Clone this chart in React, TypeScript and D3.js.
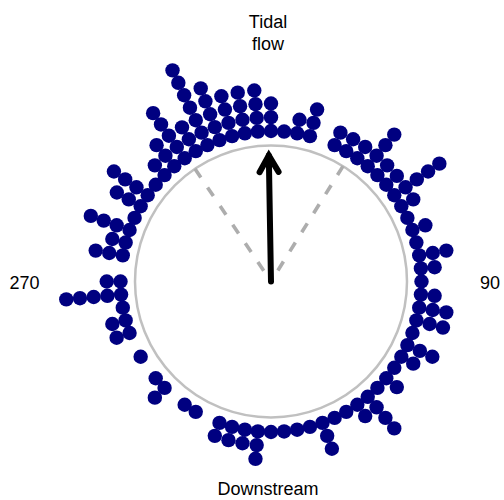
import React from "react";
import * as d3 from "d3";

// Bin centres (compass degrees, clockwise from "Tidal flow" at top)
const binCenters = [
  0, 5, 10, 15, 20, 25, 30, 35, 40, 45, 50, 55,
  60, 65, 70, 75, 80, 85, 90, 95, 100, 105, 110, 115,
  120, 125, 130, 135, 140, 145, 150, 155, 160, 165, 170, 175,
  180, 185, 190, 195, 200, 205, 210, 215, 220, 225, 230, 235,
  240, 245, 250, 255, 260, 265, 270, 275, 280, 285, 290, 295,
  300, 305, 310, 315, 320, 325, 330, 335, 340, 345, 350, 355,
];

// Number of observations stacked in each bin
const binCounts = [
  3, 1, 2, 3, 0, 2, 2, 2, 4, 2, 2, 5,
  2, 1, 2, 1, 3, 2, 1, 2, 3, 3, 1, 3,
  2, 1, 2, 1, 4, 2, 1, 1, 3, 1, 1, 1,
  1, 3, 2, 2, 2, 0, 1, 1, 0, 2, 1, 0,
  1, 0, 2, 2, 1, 5, 2, 0, 3, 2, 4, 1,
  3, 4, 1, 2, 3, 5, 3, 7, 5, 4, 4, 4,
];

// Mean direction, mean resultant length and its confidence interval
const meanDirection = -1;
const meanResultantLength = 0.926;
const ciLimits = [-34, 32];

// Axis labels
const axisLabels = [
  { angle: 0, lines: ["Tidal", "flow"] },
  { angle: 90, lines: ["90"] },
  { angle: 180, lines: ["Downstream"] },
  { angle: 270, lines: ["270"] },
];

const W = 504;
const H = 500;
const CX = 271;
const CY = 281.5;
const R = 136;

export default function App() {
  const angle = d3.scaleLinear().domain([0, 360]).range([0, 2 * Math.PI]);
  const stack = d3.scaleLinear().domain([0, 1]).range([150.5, 164.25]);
  const radial = d3.scaleLinear().domain([0, 1]).range([0, R]);

  const pt = (deg: number, r: number): [number, number] => {
    const a = angle(deg);
    return [CX + r * Math.sin(a), CY - r * Math.cos(a)];
  };

  const dots: { x: number; y: number; key: string }[] = [];
  binCenters.forEach((b, i) => {
    for (let k = 0; k < binCounts[i]; k++) {
      const [x, y] = pt(b, stack(k));
      dots.push({ x, y, key: `${b}-${k}` });
    }
  });

  const tip = pt(meanDirection, radial(meanResultantLength));
  const headLen = 19;
  const headAng = 30;
  const back = meanDirection + 180;
  const wing = (s: number): [number, number] => {
    const a = angle(back + s * headAng);
    return [tip[0] + headLen * Math.sin(a), tip[1] - headLen * Math.cos(a)];
  };
  const w1 = wing(-1);
  const w2 = wing(1);
  const headPath = d3.line()([w1, tip, w2]) || "";

  const labelPos: Record<number, { x: number; y: number; anchor: string }> = {
    0: { x: 268, y: 27.5, anchor: "middle" },
    90: { x: 490, y: 288.5, anchor: "middle" },
    180: { x: 268, y: 495, anchor: "middle" },
    270: { x: 24.5, y: 288.5, anchor: "middle" },
  };

  return (
    <svg
      width={W}
      height={H}
      style={{ position: "absolute", left: 0, top: 0, background: "#fff" }}
      fontFamily="'Liberation Sans', Arial, Helvetica, sans-serif"
    >
      <circle cx={CX} cy={CY} r={R} fill="none" stroke="#c0c0c0" strokeWidth={2.5} />
      {ciLimits.map((c) => {
        const [x, y] = pt(c, R);
        return (
          <line
            key={c}
            x1={x}
            y1={y}
            x2={CX}
            y2={CY}
            stroke="#adadad"
            strokeWidth={3.6}
            strokeDasharray="10.5 12"
          />
        );
      })}
      <line
        x1={CX}
        y1={CY}
        x2={tip[0]}
        y2={tip[1]}
        stroke="#000"
        strokeWidth={6}
        strokeLinecap="round"
      />
      <path
        d={headPath}
        fill="none"
        stroke="#000"
        strokeWidth={6}
        strokeLinecap="round"
        strokeLinejoin="miter"
      />
      {dots.map((d) => (
        <circle key={d.key} cx={d.x} cy={d.y} r={7.2} fill="#000080" />
      ))}
      {axisLabels.map((l) => {
        const p = labelPos[l.angle];
        return (
          <text key={l.angle} x={p.x} y={p.y} textAnchor={p.anchor} fontSize={18} fill="#000">
            {l.lines.map((s, i) => (
              <tspan key={i} x={p.x} dy={i === 0 ? 0 : 22}>
                {s}
              </tspan>
            ))}
          </text>
        );
      })}
    </svg>
  );
}
